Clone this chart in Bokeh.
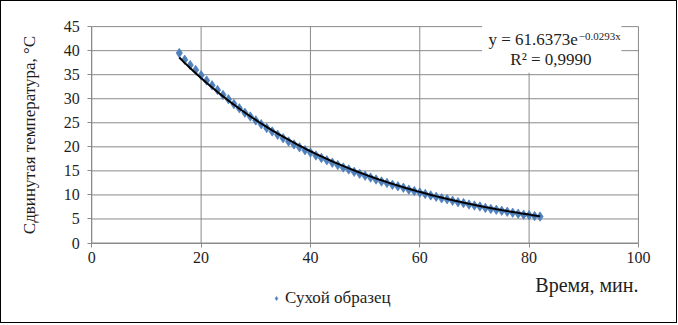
import numpy as np
from bokeh.plotting import figure
from bokeh.models import (Range1d, FixedTicker, Label, Legend, LegendItem,
                          BoxAnnotation)
from bokeh.embed import file_html
from bokeh.resources import INLINE

# ---- data ----
time_min = [16, 17, 18, 19, 20, 21, 22, 23, 24, 25, 26, 27, 28, 29, 30, 31, 32, 33,
            34, 35, 36, 37, 38, 39, 40, 41, 42, 43, 44, 45, 46, 47, 48, 49, 50, 51,
            52, 53, 54, 55, 56, 57, 58, 59, 60, 61, 62, 63, 64, 65, 66, 67, 68, 69,
            70, 71, 72, 73, 74, 75, 76, 77, 78, 79, 80, 81, 82]
temp_c = [39.5, 38.1, 37.0, 36.0, 34.9, 33.8, 32.8, 31.8, 30.8, 29.9, 28.9, 28.0,
          27.1, 26.3, 25.5, 24.7, 23.9, 23.2, 22.5, 21.8, 21.1, 20.5, 19.9, 19.3,
          18.8, 18.2, 17.7, 17.2, 16.7, 16.2, 15.7, 15.3, 14.8, 14.4, 14.0, 13.6,
          13.2, 12.8, 12.5, 12.1, 11.8, 11.5, 11.1, 10.8, 10.5, 10.2, 9.9, 9.6,
          9.3, 9.1, 8.8, 8.5, 8.3, 8.0, 7.8, 7.6, 7.3, 7.1, 6.9, 6.7, 6.5, 6.3,
          6.1, 5.9, 5.8, 5.6, 5.5]
series_name = "Сухой образец"
x_title = "Время, мин."
y_title = "Сдвинутая температура, °С"
# trendline as printed on the chart
fit_a = 61.6373
fit_b = -0.0293
r2_text = "R² = 0,9990"
x_ticks = [0, 20, 40, 60, 80, 100]
y_ticks = [0, 5, 10, 15, 20, 25, 30, 35, 40, 45]

FONT = "Liberation Serif"
GRID = "#8a8a8a"
TXT = "#1e1e1e"

# the frame covers the whole chart box; axes are pinned at x=0 / y=0 inside it
p = figure(width=677, height=323, output_backend="svg", toolbar_location=None,
           x_range=Range1d(-16.15, 103.67), y_range=Range1d(-15.07, 48.35),
           min_border_left=2, min_border_right=20, min_border_top=9,
           min_border_bottom=9)
p.styles = {"border": "1px solid black"}
p.outline_line_color = None

for ax in (p.xaxis[0], p.yaxis[0]):
    ax.axis_line_color = GRID
    ax.major_tick_line_color = GRID
    ax.major_tick_in = 0
    ax.major_tick_out = 4
    ax.minor_tick_line_color = None
    ax.major_label_text_font = FONT
    ax.major_label_text_font_size = "16px"
    ax.major_label_text_color = TXT
    ax.axis_label_text_font = FONT
    ax.axis_label_text_font_style = "normal"
    ax.axis_label_text_font_size = "17px"
    ax.axis_label_text_color = TXT

p.xaxis[0].ticker = FixedTicker(ticks=x_ticks)
p.xaxis[0].fixed_location = y_ticks[0]
p.xaxis[0].bounds = (x_ticks[0], x_ticks[-1])
p.xaxis[0].major_label_standoff = 5
p.yaxis[0].ticker = FixedTicker(ticks=y_ticks)
p.yaxis[0].fixed_location = x_ticks[0]
p.yaxis[0].bounds = (y_ticks[0], y_ticks[-1])
p.yaxis[0].major_label_standoff = 8
p.yaxis[0].axis_label = y_title
p.yaxis[0].axis_label_standoff = 22

p.xgrid.visible = False
p.ygrid.visible = False
n_x, n_y = len(x_ticks), len(y_ticks)
# grid lines limited to the plotting area
p.segment(x0=x_ticks, y0=[y_ticks[0]] * n_x, x1=x_ticks, y1=[y_ticks[-1]] * n_x,
          line_color=GRID, line_width=1, level="underlay")
p.segment(x0=[x_ticks[0]] * n_y, y0=y_ticks, x1=[x_ticks[-1]] * n_y, y1=y_ticks,
          line_color=GRID, line_width=1, level="underlay")

sc = p.scatter(time_min, temp_c, marker="diamond", size=9.5,
               fill_color="#4F81BD", line_color="#4577B5", line_width=0.6)

xs = np.linspace(min(time_min), max(time_min), 200)
p.line(xs, fit_a * np.exp(fit_b * xs), line_color="black", line_width=2)

# equation text box
p.add_layout(BoxAnnotation(left=71.4, right=96.9, bottom=35.4, top=y_ticks[-1] + 0.3,
                           fill_color="white", fill_alpha=1, line_color=None))
p.add_layout(Label(x=88.9, y=42.3, text=f"y = {fit_a}e", text_font=FONT,
                   text_font_size="17px", text_align="right", text_baseline="middle",
                   text_color=TXT))
p.add_layout(Label(x=89.1, y=43.0, text=f"−{abs(fit_b)}x", text_font=FONT,
                   text_font_size="11px", text_align="left", text_baseline="middle",
                   text_color=TXT))
p.add_layout(Label(x=84.0, y=38.1, text=r2_text, text_font=FONT,
                   text_font_size="17px", text_align="center", text_baseline="middle",
                   text_color=TXT))

# x-axis title, right aligned at the end of the axis
p.add_layout(Label(x=x_ticks[-1], y=-8.8, text=x_title, text_font=FONT,
                   text_font_size="20px", text_align="right", text_baseline="middle",
                   text_color=TXT))

legend = Legend(items=[LegendItem(label=series_name, renderers=[sc])],
                location=(268, 7), padding=0, margin=0,
                glyph_width=10, glyph_height=14, label_height=14,
                label_standoff=4, border_line_color=None,
                background_fill_alpha=0, label_text_font=FONT,
                label_text_font_size="17px", label_text_color=TXT,
                orientation="horizontal")
p.add_layout(legend, "center")

open("out.html", "w").write(file_html(p, INLINE))
